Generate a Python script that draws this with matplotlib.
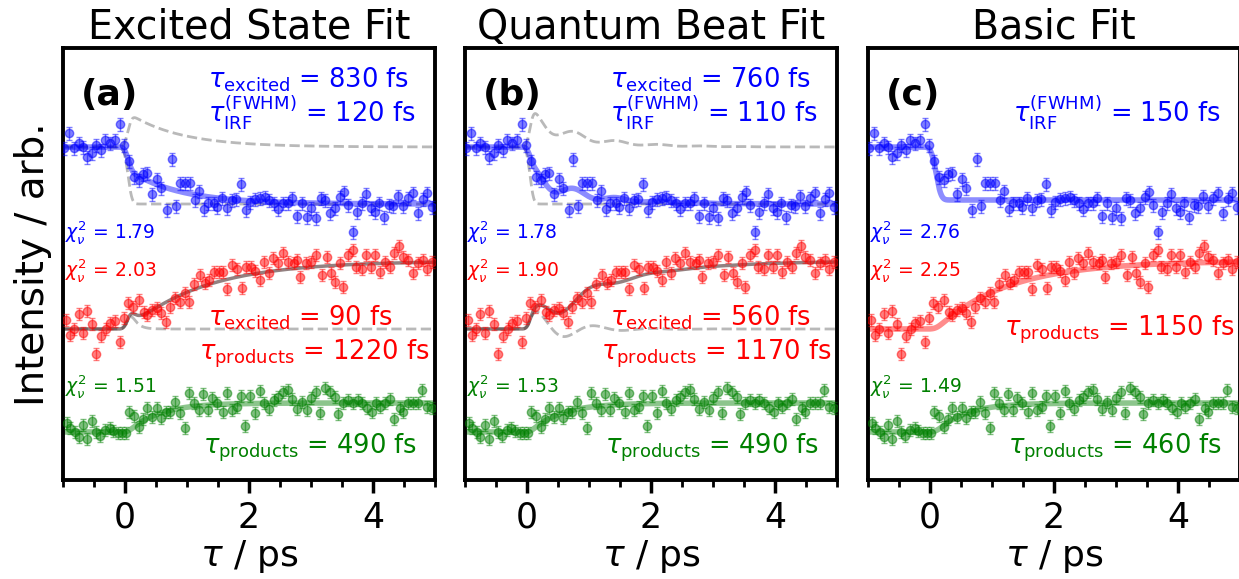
import numpy as np
import matplotlib
matplotlib.use("Agg")
import matplotlib.pyplot as plt
from matplotlib.ticker import MultipleLocator

# ---------------- data (shared by all three panels) ----------------
t_blue = [-0.98, -0.91, -0.83, -0.75, -0.67, -0.61, -0.53, -0.46, -0.38, -0.32,
          -0.24, -0.16, -0.08, -0.01, 0.07, 0.15, 0.22, 0.29, 0.36, 0.43,
          0.51, 0.58, 0.67, 0.75, 0.82, 0.89, 0.97, 1.05, 1.13, 1.20,
          1.27, 1.34, 1.43, 1.49, 1.57, 1.64, 1.72, 1.79, 1.87, 1.95,
          2.02, 2.10, 2.18, 2.25, 2.32, 2.40, 2.47, 2.55, 2.63, 2.70,
          2.78, 2.85, 2.93, 3.00, 3.08, 3.16, 3.23, 3.30, 3.39, 3.46,
          3.53, 3.60, 3.67, 3.74, 3.82, 3.89, 3.96, 4.03, 4.10, 4.18,
          4.26, 4.33, 4.41, 4.49, 4.57, 4.64, 4.72, 4.80, 4.87, 4.95]
I_blue = [3.32, 3.47, 3.32, 3.37, 3.33, 3.23, 3.27, 3.35, 3.30, 3.40,
          3.37, 3.40, 3.56, 3.35, 3.19, 3.03, 3.00, 3.06, 3.07, 2.86,
          3.01, 2.92, 2.70, 3.21, 2.74, 2.97, 2.97, 2.97, 2.80, 2.89,
          2.71, 2.77, 2.77, 2.73, 2.82, 2.72, 2.80, 2.81, 2.96, 2.70,
          2.78, 2.81, 2.82, 2.83, 2.80, 2.77, 2.71, 2.77, 2.77, 2.82,
          2.64, 2.77, 2.63, 2.72, 2.62, 2.82, 2.80, 2.67, 2.72, 2.83,
          2.88, 2.75, 2.48, 2.68, 2.77, 2.86, 2.72, 2.68, 2.77, 2.63,
          2.75, 2.74, 2.84, 2.74, 2.82, 2.87, 2.67, 2.81, 2.87, 2.73]

t_red = [-0.95, -0.89, -0.82, -0.75, -0.68, -0.61, -0.53, -0.46, -0.38, -0.31,
         -0.24, -0.16, -0.08, -0.01, 0.05, 0.13, 0.23, 0.30, 0.36, 0.43,
         0.51, 0.58, 0.66, 0.73, 0.81, 0.89, 0.97, 1.04, 1.12, 1.21,
         1.29, 1.36, 1.43, 1.51, 1.58, 1.65, 1.72, 1.80, 1.88, 1.95,
         2.03, 2.10, 2.18, 2.24, 2.33, 2.39, 2.47, 2.55, 2.63, 2.72,
         2.78, 2.83, 2.92, 3.00, 3.08, 3.17, 3.25, 3.32, 3.39, 3.46,
         3.52, 3.59, 3.67, 3.73, 3.82, 3.89, 3.96, 4.03, 4.11, 4.19,
         4.27, 4.34, 4.42, 4.49, 4.57, 4.64, 4.72, 4.80, 4.87, 4.95]
I_red = [1.60, 1.45, 1.51, 1.66, 1.47, 1.69, 1.56, 1.26, 1.44, 1.51,
         1.57, 1.59, 1.38, 1.62, 1.77, 1.73, 1.80, 1.68, 1.65, 1.70,
         1.72, 1.67, 1.58, 1.73, 1.82, 1.78, 1.87, 1.78, 1.96, 2.05,
         1.97, 2.00, 2.08, 2.08, 2.08, 1.91, 2.15, 2.11, 1.92, 2.13,
         2.13, 2.09, 2.00, 2.18, 2.07, 2.22, 2.17, 2.27, 2.18, 2.17,
         2.20, 2.03, 2.17, 2.18, 2.25, 2.05, 2.23, 2.07, 1.98, 2.17,
         1.93, 2.25, 2.30, 2.13, 2.11, 2.25, 2.13, 2.25, 2.08, 2.18,
         2.13, 2.27, 2.34, 2.23, 2.20, 2.07, 2.17, 2.20, 2.11, 2.18]

t_green = [-0.94, -0.88, -0.81, -0.75, -0.68, -0.61, -0.54, -0.47, -0.40, -0.32,
           -0.25, -0.19, -0.12, -0.05, 0.01, 0.07, 0.15, 0.22, 0.29, 0.35,
           0.43, 0.51, 0.58, 0.66, 0.73, 0.81, 0.89, 0.97, 1.04, 1.11,
           1.20, 1.26, 1.34, 1.41, 1.48, 1.58, 1.64, 1.72, 1.80, 1.87,
           1.94, 2.02, 2.10, 2.17, 2.24, 2.32, 2.40, 2.47, 2.55, 2.63,
           2.70, 2.78, 2.85, 2.93, 3.00, 3.08, 3.15, 3.23, 3.31, 3.39,
           3.44, 3.52, 3.59, 3.67, 3.75, 3.82, 3.90, 3.98, 4.05, 4.12,
           4.19, 4.27, 4.34, 4.43, 4.49, 4.57, 4.64, 4.72, 4.79, 4.87,
           4.95]
I_green = [0.57, 0.52, 0.48, 0.43, 0.55, 0.41, 0.59, 0.48, 0.44, 0.50,
           0.52, 0.49, 0.47, 0.47, 0.47, 0.68, 0.64, 0.53, 0.61, 0.72,
           0.63, 0.72, 0.62, 0.68, 0.68, 0.78, 0.67, 0.52, 0.87, 0.77,
           0.70, 0.86, 0.70, 0.82, 0.77, 0.68, 0.87, 0.70, 0.73, 0.84,
           0.54, 0.84, 0.67, 0.89, 0.77, 0.71, 0.80, 0.83, 0.88, 0.90,
           0.81, 0.71, 0.78, 0.70, 0.82, 0.88, 0.67, 0.92, 0.88, 0.83,
           0.66, 0.77, 0.80, 0.77, 0.80, 0.77, 0.72, 0.68, 0.77, 0.73,
           0.77, 0.81, 0.61, 0.72, 0.68, 0.77, 0.77, 0.77, 0.90, 0.73,
           0.72]

err_blue = 0.065
err_red = 0.06
err_green = 0.06

titles = ["Excited State Fit", "Quantum Beat Fit", "Basic Fit"]
panel_tags = ["(a)", "(b)", "(c)"]
irf_fwhm = [0.12, 0.11, 0.15]          # ps
time_zero = [0.05, 0.05, 0.10]         # ps
tau_exc_blue = [0.83, 0.76, None]      # ps
tau_exc_red = [0.09, 0.56, None]       # ps
tau_prod_red = [1.22, 1.17, 1.15]      # ps
tau_prod_green = [0.49, 0.49, 0.46]    # ps
chi_blue = ["1.79", "1.78", "2.76"]
chi_red = ["2.03", "1.90", "2.25"]
chi_green = ["1.51", "1.53", "1.49"]

# fit-model levels (arb.)
blue_pre, blue_drop, blue_amp = 3.33, 0.57, 0.34
red_base, red_exc_amp, red_prod_amp = 1.51, 0.27, 0.68
green_base, green_amp = 0.48, 0.29

# ---------------- fit models ----------------
dt = 0.002
tf = np.arange(-2.0, 6.0, dt)


def conv(raw, fwhm):
    sig = fwhm / 2.3548
    n = int(5 * sig / dt)
    kt = np.arange(-n, n + 1) * dt
    k = np.exp(-0.5 * (kt / sig) ** 2)
    k /= k.sum()
    return np.convolve(raw, k, mode="same")


def heav(t0):
    return (tf >= t0).astype(float)


def exc(tau, t0):
    return heav(t0) * np.exp(-(tf - t0) / tau)


def prod(tau, t0):
    return heav(t0) * (1 - np.exp(-(tf - t0) / tau))


def beat(tau_d, tc, T, t0):
    return heav(t0) * np.exp(-(tf - t0) / tau_d) * np.cos(2 * np.pi * (tf - tc) / T)


# ---------------- figure ----------------
W, Hpx = 1239, 579
fig = plt.figure(figsize=(W / 100, Hpx / 100), dpi=100)
lefts = [63, 465, 868]
ax_w, ax_top, ax_bot = 372, 48, 480

BLUE, RED, GREEN = "blue", "red", "green"
TXT = 18.5

for i in range(3):
    ax = fig.add_axes([lefts[i] / W, 1 - ax_bot / Hpx, ax_w / W, (ax_bot - ax_top) / Hpx])
    fw = irf_fwhm[i]
    t0 = time_zero[i]
    step = conv(heav(t0), fw)
    gfit = green_base + green_amp * conv(prod(tau_prod_green[i], t0), fw)
    dash_kw = dict(ls="--", color="grey", alpha=0.55, lw=2, zorder=1)
    if i == 0:
        up = blue_amp * conv(exc(tau_exc_blue[i], t0), fw)
        bfit = blue_pre - blue_drop * step + up
        ax.plot(tf, blue_pre + up, **dash_kw)
        ax.plot(tf, blue_pre - blue_drop * step, **dash_kw)
        rexc = red_exc_amp * conv(exc(tau_exc_red[i], t0), fw)
        rfit = red_base + rexc + red_prod_amp * conv(prod(tau_prod_red[i], t0), fw)
        ax.plot(tf, red_base + rexc, **dash_kw)
    elif i == 1:
        up = 0.30 * conv(exc(tau_exc_blue[i], t0), fw) + 0.10 * conv(beat(0.8, 0.78, 0.68, t0), fw)
        bfit = blue_pre - blue_drop * step + up
        ax.plot(tf, blue_pre + up, **dash_kw)
        ax.plot(tf, blue_pre - blue_drop * step, **dash_kw)
        rexc = 0.22 * conv(beat(tau_exc_red[i], 0.17, 0.93, t0), fw)
        rfit = red_base + rexc + red_prod_amp * conv(prod(tau_prod_red[i], t0), fw)
        ax.plot(tf, red_base + rexc, **dash_kw)
    else:
        bfit = blue_pre - 0.53 * step
        rfit = red_base + red_prod_amp * conv(prod(tau_prod_red[i], t0), fw)

    ax.plot(tf, bfit, color=BLUE, alpha=0.45, lw=4, zorder=2)
    if i < 2:
        ax.plot(tf, rfit, color="#3a1a1a", alpha=0.55, lw=2.5, zorder=2)
    else:
        ax.plot(tf, rfit, color=RED, alpha=0.45, lw=4, zorder=2)
    ax.plot(tf, gfit, color=GREEN, alpha=0.45, lw=4, zorder=2)

    for tt, yy, ee, cc in [(t_blue, I_blue, err_blue, BLUE),
                           (t_red, I_red, err_red, RED),
                           (t_green, I_green, err_green, GREEN)]:
        ax.errorbar(tt, yy, yerr=ee, fmt="o", color=cc, alpha=0.5, ms=6,
                    capsize=2.5, elinewidth=1, capthick=1, zorder=3)

    ax.set_xlim(-1, 5)
    ax.set_ylim(0, 4.32)
    ax.set_yticks([])
    ax.xaxis.set_major_locator(MultipleLocator(2))
    ax.xaxis.set_minor_locator(MultipleLocator(0.5))
    ax.tick_params(axis="x", which="major", direction="out", length=9, width=2.5,
                   labelsize=25, pad=6)
    ax.tick_params(axis="x", which="minor", direction="out", length=5, width=2)
    for s in ax.spines.values():
        s.set_linewidth(2.8)
    ax.set_xlabel(r"$\tau$ / ps", fontsize=26, labelpad=2)
    ax.set_title(titles[i], fontsize=28.5, pad=5)

    # annotations
    ax.text(-0.71, 3.85, panel_tags[i], fontsize=26, fontweight="bold", va="center", ha="left")
    if tau_exc_blue[i] is not None:
        ax.text(1.34, 3.93, r"$\tau_{\rm excited}$ = %d fs" % round(tau_exc_blue[i] * 1000),
                color=BLUE, fontsize=TXT, ha="left", va="baseline")
    ax.text(1.34, 3.57, r"$\tau_{\rm IRF}^{\rm (FWHM)}$ = %d fs" % round(fw * 1000),
            color=BLUE, fontsize=TXT, ha="left", va="baseline")
    ax.text(-0.97, 2.42, r"$\chi^2_\nu$ = " + chi_blue[i], color=BLUE, fontsize=13.5, va="baseline")
    ax.text(-0.97, 2.03, r"$\chi^2_\nu$ = " + chi_red[i], color=RED, fontsize=13.5, va="baseline")
    ax.text(-0.97, 0.88, r"$\chi^2_\nu$ = " + chi_green[i], color=GREEN, fontsize=13.5, va="baseline")
    if tau_exc_red[i] is not None:
        ax.text(1.34, 1.55, r"$\tau_{\rm excited}$ = %d fs" % round(tau_exc_red[i] * 1000),
                color=RED, fontsize=TXT, ha="left", va="baseline")
        ax.text(1.19, 1.20, r"$\tau_{\rm products}$ = %d fs" % round(tau_prod_red[i] * 1000),
                color=RED, fontsize=TXT, ha="left", va="baseline")
    else:
        ax.text(1.19, 1.45, r"$\tau_{\rm products}$ = %d fs" % round(tau_prod_red[i] * 1000),
                color=RED, fontsize=TXT, ha="left", va="baseline")
    ax.text(1.26, 0.27, r"$\tau_{\rm products}$ = %d fs" % round(tau_prod_green[i] * 1000),
            color=GREEN, fontsize=TXT, ha="left", va="baseline")
    if i == 0:
        ax.set_ylabel("Intensity / arb.", fontsize=28, labelpad=8)

fig.savefig("out.png", dpi=100)
